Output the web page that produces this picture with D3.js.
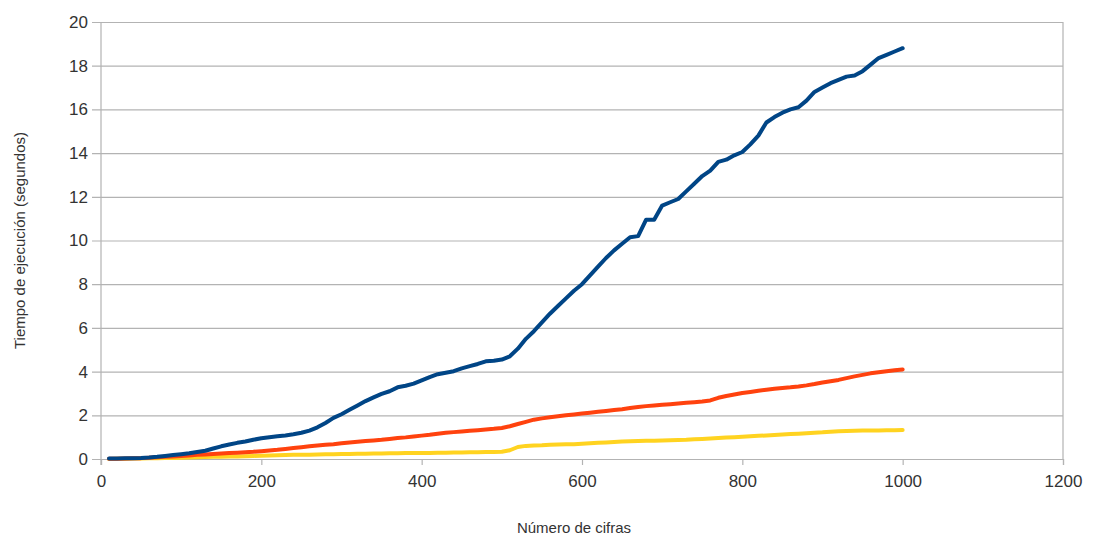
<!DOCTYPE html>
<html><head><meta charset="utf-8">
<script src="https://cdn.jsdelivr.net/npm/d3@7"></script>
<style>body{margin:0;background:#fff}svg{display:block}</style>
</head><body>
<svg id="c" width="1093" height="539"></svg>
<script>
const cifras = [10,20,30,40,50,60,70,80,90,100,110,120,130,140,150,160,170,180,190,200,210,220,230,240,250,260,270,280,290,300,310,320,330,340,350,360,370,380,390,400,410,420,430,440,450,460,470,480,490,500,510,520,530,540,550,560,570,580,590,600,610,620,630,640,650,660,670,680,690,700,710,720,730,740,750,760,770,780,790,800,810,820,830,840,850,860,870,880,890,900,910,920,930,940,950,960,970,980,990,1000];
const serieAzul = [0.02,0.02,0.03,0.04,0.05,0.07,0.1,0.14,0.18,0.22,0.26,0.32,0.38,0.48,0.58,0.66,0.74,0.8,0.88,0.95,1.0,1.04,1.08,1.13,1.2,1.3,1.45,1.65,1.88,2.05,2.25,2.45,2.65,2.82,2.98,3.1,3.28,3.35,3.45,3.6,3.75,3.88,3.95,4.02,4.15,4.25,4.35,4.47,4.5,4.55,4.7,5.05,5.5,5.85,6.25,6.65,7.0,7.35,7.7,8.0,8.4,8.8,9.2,9.55,9.85,10.15,10.2,10.95,10.95,11.6,11.75,11.9,12.25,12.6,12.95,13.2,13.6,13.7,13.9,14.05,14.4,14.8,15.4,15.65,15.85,16.0,16.1,16.4,16.8,17.0,17.2,17.35,17.5,17.55,17.75,18.05,18.35,18.5,18.65,18.8];
const serieNaranja = [0.01,0.01,0.02,0.03,0.04,0.06,0.08,0.1,0.12,0.14,0.16,0.19,0.21,0.23,0.25,0.27,0.29,0.31,0.33,0.36,0.39,0.42,0.46,0.5,0.54,0.58,0.62,0.65,0.68,0.72,0.76,0.79,0.82,0.85,0.88,0.92,0.96,0.99,1.03,1.07,1.11,1.16,1.2,1.23,1.26,1.29,1.32,1.35,1.38,1.42,1.5,1.6,1.7,1.8,1.86,1.91,1.96,2.0,2.04,2.08,2.12,2.16,2.2,2.24,2.28,2.33,2.38,2.42,2.45,2.48,2.51,2.54,2.57,2.6,2.63,2.68,2.8,2.88,2.95,3.02,3.07,3.12,3.17,3.21,3.25,3.28,3.32,3.37,3.43,3.5,3.56,3.62,3.7,3.78,3.85,3.92,3.97,4.02,4.06,4.1];
const serieAmarilla = [0.0,0.01,0.01,0.02,0.02,0.03,0.04,0.05,0.05,0.06,0.07,0.08,0.09,0.1,0.1,0.11,0.12,0.13,0.14,0.15,0.16,0.17,0.18,0.19,0.2,0.2,0.21,0.22,0.22,0.23,0.23,0.24,0.24,0.25,0.25,0.26,0.26,0.27,0.27,0.28,0.28,0.29,0.29,0.3,0.3,0.31,0.31,0.32,0.32,0.33,0.4,0.55,0.6,0.62,0.63,0.65,0.66,0.67,0.68,0.7,0.72,0.74,0.76,0.78,0.8,0.81,0.82,0.83,0.84,0.85,0.86,0.87,0.88,0.9,0.92,0.94,0.96,0.98,1.0,1.02,1.04,1.06,1.08,1.1,1.12,1.14,1.16,1.18,1.2,1.22,1.25,1.27,1.28,1.29,1.3,1.3,1.31,1.32,1.32,1.33];
const xTicks = [0,200,400,600,800,1000,1200];
const yTicks = [0,2,4,6,8,10,12,14,16,18,20];
const series = [
  {name:"azul", values: serieAzul, color:"#004586"},
  {name:"naranja", values: serieNaranja, color:"#ff420e"},
  {name:"amarilla", values: serieAmarilla, color:"#ffd320"}
];

const svg = d3.select("#c");
const m = {l:101, r:30, t:22, b:80};
const W = 1093, H = 539;
const x = d3.scaleLinear().domain([0,1200]).range([m.l, W-m.r]);
const y = d3.scaleLinear().domain([0,20]).range([H-m.b, m.t]);
const grey = "#b3b3b3";
const font = "'Liberation Sans', Arial, sans-serif";

// grid
const gy = svg.append("g").attr("transform",`translate(${m.l},0)`)
  .call(d3.axisLeft(y).tickValues(yTicks).tickSize(9).tickPadding(4).tickFormat(d3.format("d")));
gy.select(".domain").remove();
gy.selectAll(".tick line").attr("x2", W-m.r-m.l).attr("x1",-9).attr("stroke",grey).attr("stroke-width",1.2);
gy.selectAll(".tick text").attr("font-family",font).attr("font-size",17).attr("fill","#333");

// right border
svg.append("line").attr("x1",W-m.r).attr("x2",W-m.r).attr("y1",m.t).attr("y2",H-m.b).attr("stroke",grey).attr("stroke-width",1.2);
// left axis
svg.append("line").attr("x1",m.l).attr("x2",m.l).attr("y1",m.t).attr("y2",H-m.b+6).attr("stroke",grey).attr("stroke-width",1.2);

const gx = svg.append("g").attr("transform",`translate(0,${H-m.b})`)
  .call(d3.axisBottom(x).tickValues(xTicks).tickSize(6).tickPadding(10).tickFormat(d3.format("d")));
gx.select(".domain").attr("stroke",grey).attr("stroke-width",1.2);
gx.selectAll(".tick line").attr("stroke",grey).attr("stroke-width",1.2);
gx.selectAll(".tick text").attr("font-family",font).attr("font-size",17).attr("fill","#333");

const line = d3.line().x((d,i)=>x(cifras[i])).y(d=>y(d)).curve(d3.curveLinear);
svg.append("g").selectAll("path").data(series.slice().reverse()).join("path")
  .attr("d", s=>line(s.values))
  .attr("fill","none").attr("stroke",s=>s.color).attr("stroke-width",4)
  .attr("stroke-linejoin","round").attr("stroke-linecap","round");

svg.append("text").attr("x",(m.l+W-m.r)/2 - 8).attr("y",533)
  .attr("text-anchor","middle").attr("font-family",font).attr("font-size",15).attr("fill","#333")
  .text("Número de cifras");
svg.append("text").attr("transform",`translate(25,${(m.t+H-m.b)/2}) rotate(-90)`)
  .attr("text-anchor","middle").attr("font-family",font).attr("font-size",15).attr("fill","#333")
  .text("Tiempo de ejecución (segundos)");
</script>
</body></html>
